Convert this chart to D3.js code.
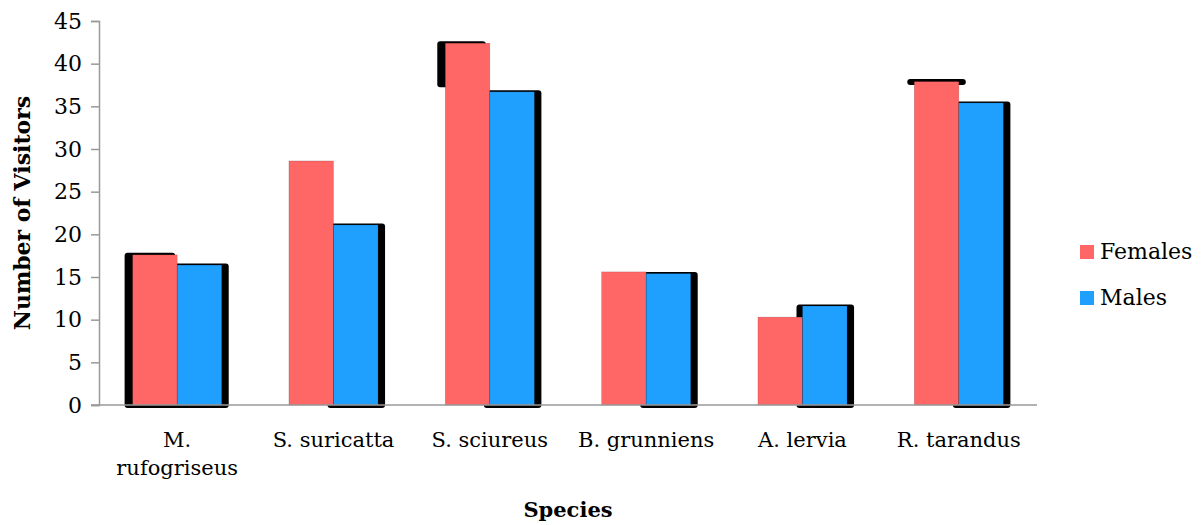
<!DOCTYPE html>
<html>
<head>
<meta charset="utf-8">
<script src="https://cdn.jsdelivr.net/npm/d3@7"></script>
<style>
  html, body { margin: 0; padding: 0; background: #fff; }
  svg { display: block; }
  text { font-family: "DejaVu Serif", "Liberation Serif", serif; fill: #000; }
</style>
</head>
<body>
<svg id="chart" width="1202" height="525"></svg>
<script>
// Visitor counts per species, split by sex
const categories = ["M. rufogriseus", "S. suricatta", "S. sciureus", "B. grunniens", "A. lervia", "R. tarandus"];
const seriesNames = ["Females", "Males"];
const females = [17.6, 28.6, 42.4, 15.6, 10.3, 37.9];
const males = [16.4, 21.1, 36.7, 15.4, 11.6, 35.4];
const yTicks = [0, 5, 10, 15, 20, 25, 30, 35, 40, 45];

// Drop-shadow treatment behind each bar (bevelled black outline pieces)
const femaleShadow = ["side", "none", "partial", "none", "none", "cap"];
const maleShadow = ["side", "side", "side", "side", "side", "side"];
const colors = ["#FF6666", "#1FA0FF"];

const svg = d3.select("#chart");
const plotLeft = 99, plotRight = 1037, plotTop = 21, plotBottom = 405;

const x0 = d3.scaleBand().domain(categories).range([plotLeft, plotRight])
  .paddingInner(0.43).paddingOuter(0.215);
const x1 = d3.scaleBand().domain(seriesNames).range([0, x0.bandwidth()]);
const y = d3.scaleLinear().domain([0, 45]).range([plotBottom, plotTop]);

const rows = categories.map((c, i) => ({
  cat: c,
  bars: [
    { name: "Females", value: females[i], shadow: femaleShadow[i], color: colors[0] },
    { name: "Males", value: males[i], shadow: maleShadow[i], color: colors[1] }
  ]
}));

// Shadows first, so the bars sit on top of them
const shadowLayer = svg.append("g");
rows.forEach(r => {
  r.bars.forEach(b => {
    const bx = x0(r.cat) + x1(b.name), bw = x1.bandwidth(), ty = y(b.value);
    if (b.shadow === "side" && b.name === "Males") {
      shadowLayer.append("rect").attr("x", bx - 6).attr("y", ty - 1.5)
        .attr("width", bw + 13).attr("height", plotBottom + 3 - (ty - 1.5))
        .attr("rx", 3).attr("fill", "#000");
    } else if (b.shadow === "side") {
      shadowLayer.append("rect").attr("x", bx - 8).attr("y", ty - 2)
        .attr("width", bw + 6).attr("height", plotBottom + 3 - (ty - 2))
        .attr("rx", 3).attr("fill", "#000");
    } else if (b.shadow === "partial") {
      shadowLayer.append("rect").attr("x", bx - 8).attr("y", ty - 2)
        .attr("width", bw + 4).attr("height", 46)
        .attr("rx", 3).attr("fill", "#000");
    } else if (b.shadow === "cap") {
      shadowLayer.append("rect").attr("x", bx - 7).attr("y", ty - 2.5)
        .attr("width", bw + 14).attr("height", 6)
        .attr("rx", 3).attr("fill", "#000");
    }
  });
});

// Bars
svg.append("g").selectAll("g").data(rows).join("g")
  .attr("transform", d => `translate(${x0(d.cat)},0)`)
  .selectAll("rect").data(d => d.bars).join("rect")
  .attr("x", d => x1(d.name))
  .attr("y", d => y(d.value))
  .attr("width", x1.bandwidth())
  .attr("height", d => plotBottom - y(d.value))
  .attr("fill", d => d.color)
  .attr("stroke", "rgba(0,0,0,0.22)")
  .attr("stroke-width", 0.6);

// Y axis
const yAxis = d3.axisLeft(y).tickValues(yTicks).tickSize(8).tickPadding(9);
const gy = svg.append("g").attr("transform", `translate(${plotLeft},0)`).call(yAxis);
gy.select(".domain").attr("stroke", "#999").attr("stroke-width", 1.5);
gy.selectAll(".tick line").attr("stroke", "#999").attr("stroke-width", 1.5);
gy.selectAll(".tick text").attr("font-family", "DejaVu Serif").attr("font-size", 22).attr("fill", "#000");

// X axis baseline and category labels
const xAxis = d3.axisBottom(x0).tickSize(0).tickPadding(0);
const gx = svg.append("g").attr("transform", `translate(0,${plotBottom})`).call(xAxis);
gx.select(".domain").remove();
gx.append("line").attr("x1", plotLeft - 8).attr("x2", plotRight).attr("y1", 0).attr("y2", 0)
  .attr("stroke", "#999").attr("stroke-width", 1.5);
gx.selectAll(".tick text").each(function(d) {
  const t = d3.select(this);
  t.attr("font-family", "DejaVu Serif").attr("font-size", 21).attr("fill", "#000")
    .attr("dy", null).attr("y", 42);
  if (this.getComputedTextLength() > x0.step() - 8) {
    const words = d.split(" ");
    t.text(null);
    words.forEach((w, i) => {
      t.append("tspan").attr("x", 0).attr("y", 42 + i * 28).text(w);
    });
  }
});

// Axis titles
svg.append("text").attr("x", (plotLeft + plotRight) / 2).attr("y", 517)
  .attr("text-anchor", "middle").attr("font-size", 21).attr("font-weight", "bold")
  .text("Species");
svg.append("text").attr("transform", `translate(30,${(plotTop + plotBottom) / 2}) rotate(-90)`)
  .attr("text-anchor", "middle").attr("font-size", 22).attr("font-weight", "bold")
  .text("Number of Visitors");

// Legend
const legend = svg.append("g").attr("transform", "translate(1080,245)");
seriesNames.forEach((n, i) => {
  const g = legend.append("g").attr("transform", `translate(0,${i * 46})`);
  g.append("rect").attr("width", 14).attr("height", 14).attr("fill", colors[i]);
  g.append("text").attr("x", 20).attr("y", 14).attr("font-size", 22).text(n);
});
</script>
</body>
</html>
